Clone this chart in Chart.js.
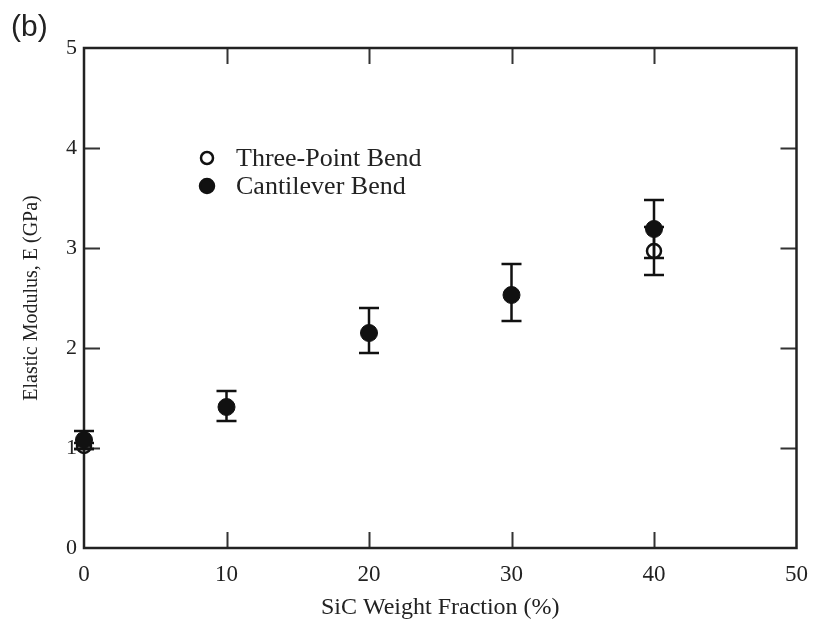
<!DOCTYPE html>
<html>
<head>
<meta charset="utf-8">
<script src="https://cdn.jsdelivr.net/npm/chart.js@4"></script>
<style>
  html, body { margin: 0; padding: 0; background: #fff; }
  #wrap { width: 821px; height: 632px; position: relative; }
</style>
</head>
<body>
<div id="wrap"><canvas id="chart"></canvas></div>
<script>
// ── data ────────────────────────────────────────
const weightFraction = [0, 10, 20, 30, 40];
const cantilever     = [1.08, 1.41, 2.15, 2.53, 3.19];
const cantileverLow  = [0.99, 1.27, 1.95, 2.27, 2.90];
const cantileverHigh = [1.17, 1.57, 2.40, 2.84, 3.48];

const threePointX    = [0, 40];
const threePoint     = [1.02, 2.97];
const threePointLow  = [0.99, 2.73];
const threePointHigh = [1.05, 3.21];

const xTicks = [0, 10, 20, 30, 40, 50];
const yTicks = [0, 1, 2, 3, 4, 5];

const SERIF = '"Liberation Serif", "DejaVu Serif", serif';
const INK = '#111';

// error bars: vertical line + caps, drawn from each dataset's low/high arrays
const errorBars = {
  id: 'errorBars',
  beforeDatasetsDraw(chart) {
    const { ctx, scales: { x, y } } = chart;
    ctx.save();
    ctx.strokeStyle = INK;
    ctx.lineWidth = 2.5;
    chart.data.datasets.forEach(ds => {
      ds.data.forEach((p, i) => {
        const px = x.getPixelForValue(p.x);
        const lo = y.getPixelForValue(ds.errLow[i]);
        const hi = y.getPixelForValue(ds.errHigh[i]);
        ctx.beginPath();
        ctx.moveTo(px, lo); ctx.lineTo(px, hi);
        ctx.moveTo(px - 10, lo); ctx.lineTo(px + 10, lo);
        ctx.moveTo(px - 10, hi); ctx.lineTo(px + 10, hi);
        ctx.stroke();
      });
    });
    ctx.restore();
  },
};

// closed frame with inward ticks on all four sides, panel tag and inset legend
const frame = {
  id: 'frame',
  beforeDatasetsDraw(chart) {
    const { ctx, chartArea: a, scales: { x, y } } = chart;
    const len = 16;
    ctx.save();
    ctx.strokeStyle = '#333';
    ctx.lineWidth = 2;
    ctx.beginPath();
    xTicks.slice(1, -1).forEach(v => {
      const px = Math.round(x.getPixelForValue(v)) + 0.5;
      ctx.moveTo(px, a.bottom); ctx.lineTo(px, a.bottom - len);
      ctx.moveTo(px, a.top); ctx.lineTo(px, a.top + len);
    });
    yTicks.slice(1, -1).forEach(v => {
      const py = Math.round(y.getPixelForValue(v)) + 0.5;
      ctx.moveTo(a.left, py); ctx.lineTo(a.left + len, py);
      ctx.moveTo(a.right, py); ctx.lineTo(a.right - len, py);
    });
    ctx.stroke();
    ctx.strokeStyle = '#222';
    ctx.lineWidth = 2.5;
    ctx.strokeRect(a.left, a.top, a.right - a.left, a.bottom - a.top);
    ctx.restore();
  },
  afterDraw(chart) {
    const { ctx, chartArea: a } = chart;
    ctx.save();
    ctx.fillStyle = '#222';
    ctx.font = '30px "Liberation Sans", Arial, sans-serif';
    ctx.textBaseline = 'middle';
    ctx.fillText('(b)', 11, 28);

    // legend
    const lx = a.left + 123, ly = a.top + 110, gap = 28;
    ctx.font = '26px ' + SERIF;
    chart.data.datasets.forEach((ds, i) => {
      const cy = ly + i * gap;
      ctx.beginPath();
      ctx.arc(lx, cy, ds.legendRadius, 0, Math.PI * 2);
      ctx.lineWidth = 2.5;
      ctx.strokeStyle = INK;
      ctx.fillStyle = ds.backgroundColor === INK ? INK : '#fff';
      ctx.fill();
      ctx.stroke();
      ctx.fillStyle = '#222';
      ctx.fillText(ds.label, lx + 29, cy + 1);
    });
    ctx.restore();
  },
};

new Chart(document.getElementById('chart'), {
  type: 'scatter',
  data: {
    datasets: [
      {
        label: 'Three-Point Bend',
        data: threePointX.map((v, i) => ({ x: v, y: threePoint[i] })),
        errLow: threePointLow,
        errHigh: threePointHigh,
        pointRadius: 7,
        pointBorderWidth: 2.5,
        borderColor: INK,
        backgroundColor: 'rgba(255,255,255,0)',
        legendRadius: 6,
        clip: false,
        order: 2,
      },
      {
        label: 'Cantilever Bend',
        data: weightFraction.map((v, i) => ({ x: v, y: cantilever[i] })),
        errLow: cantileverLow,
        errHigh: cantileverHigh,
        pointRadius: 8.5,
        pointBorderWidth: 1,
        borderColor: INK,
        backgroundColor: INK,
        legendRadius: 7,
        clip: false,
        order: 1,
      },
    ],
  },
  options: {
    responsive: true,
    maintainAspectRatio: false,
    animation: false,
    events: [],
    layout: { padding: { top: 48, right: 17, left: 0, bottom: 0 } },
    scales: {
      x: {
        type: 'linear',
        min: 0, max: 50,
        afterBuildTicks: s => { s.ticks = xTicks.map(v => ({ value: v })); },
        afterFit: s => { s.height = 84; },
        grid: { display: false, drawTicks: false },
        border: { display: false },
        ticks: { color: '#222', padding: 13, font: { family: SERIF, size: 23 } },
        title: {
          display: true,
          text: 'SiC Weight Fraction (%)',
          color: '#222',
          font: { family: SERIF, size: 24 },
          padding: { top: 0, bottom: 10 },
        },
      },
      y: {
        type: 'linear',
        min: 0, max: 5,
        afterBuildTicks: s => { s.ticks = yTicks.map(v => ({ value: v })); },
        afterFit: s => { s.width = 84; },
        grid: { display: false, drawTicks: false },
        border: { display: false },
        ticks: { color: '#222', padding: 7, font: { family: SERIF, size: 22 } },
        title: {
          display: true,
          text: 'Elastic Modulus, E (GPa)',
          color: '#222',
          font: { family: SERIF, size: 20 },
          padding: { top: 20, bottom: 0 },
        },
      },
    },
    plugins: {
      legend: { display: false },
      tooltip: { enabled: false },
    },
  },
  plugins: [frame, errorBars],
});
</script>
</body>
</html>
